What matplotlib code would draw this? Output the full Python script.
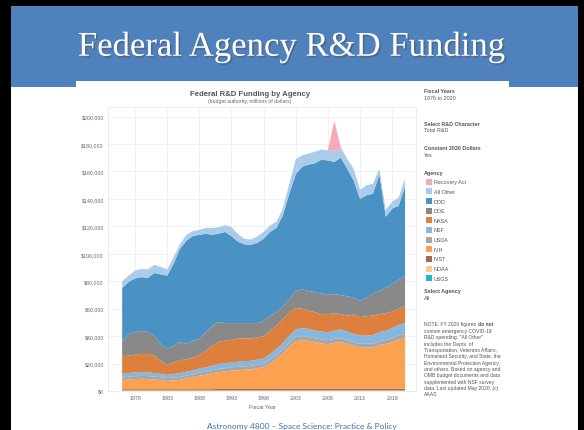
import matplotlib
matplotlib.use("Agg")
import matplotlib.pyplot as plt
import matplotlib.patheffects as pe
from matplotlib.patches import Rectangle

# fiscal years and R&D by agency, billions of constant 2020 dollars
years = list(range(1976, 2021))

usgs = [0.2] * 45
noaa = [0.3] * 45
nist = [0.8] * 15 + [1.0] * 10 + [1.2] * 20
nih = [6.5, 7.1, 7.4, 7.6, 7.5, 7.1, 6.7, 6.0, 6.4, 6.9,
       7.8, 8.6, 9.9, 10.5, 11.6, 12.3, 12.7, 13.4, 13.6, 14.0,
       14.3, 15.0, 15.8, 18.7, 22.1, 25.8, 30.7, 34.6, 35.3, 34.9,
       33.8, 33.0, 32.4, 33.4, 33.9, 32.7, 31.2, 30.2, 29.9, 30.2,
       31.7, 32.6, 33.9, 35.9, 36.9]
usda = [2.0, 2.0, 2.1, 2.1, 2.1, 2.1, 2.0, 2.0, 2.1, 2.1,
        2.1, 2.2, 2.2, 2.3, 2.3, 2.4, 2.4, 2.4, 2.5, 2.5,
        2.5, 2.5, 2.5, 2.6, 2.7, 2.8, 2.9, 3.0, 3.0, 3.0,
        2.9, 2.9, 2.9, 2.9, 3.0, 2.8, 2.7, 2.6, 2.7, 2.7,
        2.8, 2.8, 2.9, 2.9, 3.0]
nsf = [2.6, 2.7, 2.8, 2.8, 2.7, 2.6, 2.4, 2.4, 2.6, 2.8,
       2.8, 2.9, 3.0, 3.1, 3.2, 3.4, 3.5, 3.6, 3.7, 3.8,
       3.7, 3.8, 3.9, 4.1, 4.3, 4.7, 5.1, 5.5, 5.8, 5.7,
       5.6, 5.7, 5.8, 6.0, 6.2, 6.1, 6.0, 5.9, 6.1, 6.3,
       6.6, 6.9, 7.3, 7.7, 8.0]
nasa = [12.9, 12.7, 12.9, 13.2, 13.4, 12.7, 9.6, 7.3, 8.6, 9.5,
        8.8, 9.4, 9.8, 12.1, 14.5, 16.3, 16.5, 16.5, 17.0, 16.5,
        16.3, 16.3, 16.2, 17.0, 17.0, 17.6, 17.0, 15.5, 14.2, 13.3,
        13.4, 12.7, 13.2, 12.7, 11.2, 11.7, 14.1, 13.4, 14.1, 14.1,
        13.2, 12.7, 12.1, 11.8, 12.4]
doe = [11.4, 15.8, 16.5, 16.8, 16.0, 14.6, 12.3, 11.7, 12.0, 13.1,
       11.4, 12.2, 11.7, 13.6, 14.7, 14.4, 12.9, 12.1, 11.2, 11.2,
       11.2, 10.4, 11.3, 11.0, 10.0, 9.4, 9.6, 12.7, 14.0, 14.4,
       14.6, 15.0, 14.5, 13.8, 14.0, 14.0, 12.3, 12.2, 13.5, 16.0,
       17.0, 18.8, 20.1, 21.0, 22.0]
dod = [38.3, 37.9, 39.0, 39.2, 39.5, 45.6, 50.7, 53.3, 59.7, 68.0,
       75.4, 76.3, 76.0, 71.6, 66.3, 64.4, 66.4, 63.4, 59.4, 57.4,
       57.0, 58.4, 59.7, 61.0, 61.3, 66.0, 77.0, 85.0, 89.5, 92.0,
       94.0, 97.6, 97.5, 96.5, 100.0, 93.0, 85.5, 74.0, 74.6, 72.8,
       85.0, 51.5, 55.0, 54.0, 65.0]
all_other = [5.0, 4.5, 5.8, 6.0, 6.1, 6.0, 5.5, 4.6, 4.9, 3.3,
             4.3, 3.6, 3.5, 4.4, 5.0, 4.6, 5.0, 6.7, 5.6, 4.0,
             3.9, 4.6, 5.0, 4.7, 4.6, 5.0, 7.0, 11.0, 8.3, 8.0,
             8.5, 7.4, 7.4, 8.0, 6.7, 7.0, 8.5, 6.7, 7.4, 7.2,
             4.0, 5.0, 5.0, 6.0, 6.0]
recovery = [0.0] * 33 + [22.0, 1.0, 0.3] + [0.0] * 9

agencies = ["Recovery Act", "All Other", "DOD", "DOE", "NASA", "NSF",
            "USDA", "NIH", "NIST", "NOAA", "USGS"]
colors = {"Recovery Act": "#f7a9b8", "All Other": "#abcbea", "DOD": "#4a92c3",
          "DOE": "#898989", "NASA": "#de803d", "NSF": "#86b7e0",
          "USDA": "#a7a7a7", "NIH": "#fba14f", "NIST": "#9a6a5a",
          "NOAA": "#fdc69c", "USGS": "#2bb3c6"}
series = {"Recovery Act": recovery, "All Other": all_other, "DOD": dod,
          "DOE": doe, "NASA": nasa, "NSF": nsf, "USDA": usda, "NIH": nih,
          "NIST": nist, "NOAA": noaa, "USGS": usgs}

ytick_vals = list(range(0, 200001, 20000))
xtick_years = [1978, 1983, 1988, 1993, 1998, 2003, 2008, 2013, 2018]

note_lines = ["contain emergency COVID-19",
              "R&D spending. \"All Other\"",
              "includes the Depts. of",
              "Transportation, Veterans Affairs,",
              "Homeland Security, and State, the",
              "Environmental Protection Agency,",
              "and others. Based on agency and",
              "OMB budget documents and data",
              "supplemented with NSF survey",
              "data. Last updated May 2020. (c)",
              "AAAS"]

W, H = 584, 431


def fx(x):
    return x / W


def fy(y):
    return 1 - y / H


plt.rcParams["font.family"] = ["Liberation Sans", "DejaVu Sans"]
fig = plt.figure(figsize=(W / 100, H / 100), dpi=100)
fig.patch.set_facecolor("white")


# slide frame and header
def rect(x0, y0, x1, y1, color):
    fig.add_artist(Rectangle((fx(x0), fy(y1)), fx(x1) - fx(x0), fy(y0) - fy(y1),
                             transform=fig.transFigure, color=color, lw=0, zorder=0))


rect(0, 0, W, 7, "black")
rect(0, 0, 11, H, "black")
rect(578, 0, W, H, "black")
rect(11, 7, 578, 88, "#4f81bd")
rect(76, 82, 509, 88, "white")

fig.text(fx(292), fy(48), "Federal Agency R&D Funding", color="white",
         family=["Liberation Serif", "DejaVu Serif"], fontsize=25,
         ha="center", va="center",
         path_effects=[pe.withSimplePatchShadow(offset=(1.2, -1.2), alpha=0.45)])

fig.text(fx(302), fy(426.5), "Astronomy 4800 \u2013 Space Science: Practice & Policy",
         color="#3e6fb8", fontsize=6.0, family=["Lato", "DejaVu Sans"],
         ha="center", va="center")

# chart
ax = fig.add_axes([fx(108), fy(392), fx(416) - fx(108), fy(108) - fy(392)])
order = agencies[::-1]
ax.stackplot(years, [[v * 1000 for v in series[a]] for a in order],
             colors=[colors[a] for a in order], lw=0)
ax.set_xlim(1973.8, 2021.7)
ax.set_ylim(0, 207000)
ax.set_xticks(xtick_years)
ax.set_xticklabels([str(y) for y in xtick_years])
ax.set_yticks(ytick_vals)
ax.set_yticklabels(["${:,}".format(v) for v in ytick_vals])
ax.tick_params(length=0, labelsize=3.8, labelcolor="#666666", pad=3)
ax.grid(color="#ececec", lw=0.5)
ax.set_axisbelow(True)
for s in ax.spines.values():
    s.set_color("#e4e4e4")
    s.set_linewidth(0.5)
ax.set_xlabel("Fiscal Year", fontsize=4, color="#666666", labelpad=3)

fig.text(fx(250), fy(94), "Federal R&D Funding by Agency", fontsize=5.6,
         weight="bold", color="#555555", ha="center", va="center")
fig.text(fx(250), fy(101.5), "(budget authority, millions of dollars)",
         fontsize=3.7, color="#666666", ha="center", va="center")

# right panel
px0 = 424
tc = "#555555"
for txt, y, bold in [("Fiscal Years", 92, True), ("1976 to 2020", 99, False),
                     ("Select R&D Character", 124.5, True), ("Total R&D", 130.8, False),
                     ("Constant 2020 Dollars", 149, True), ("Yes", 155.3, False),
                     ("Agency", 174, True),
                     ("Select Agency", 292, True), ("All", 298.3, False)]:
    fig.text(fx(px0), fy(y), txt, fontsize=3.9, color=tc,
             weight="bold" if bold else "normal", ha="left", va="center")

for i, a in enumerate(agencies):
    y = 182.7 + i * 9.66
    fig.add_artist(Rectangle((fx(425.5), fy(y + 3)), fx(6), fy(0) - fy(6),
                             transform=fig.transFigure, color=colors[a], lw=0))
    fig.text(fx(434), fy(y), a, fontsize=3.9, color=tc, ha="left", va="center")

renderer = fig.canvas.get_renderer()
t0 = fig.text(fx(px0), fy(325), "NOTE: FY 2020 figures ", fontsize=3.6,
              color=tc, ha="left", va="center")
bb = t0.get_window_extent(renderer)
fig.text(bb.x1 / fig.bbox.width, fy(325), "do not", fontsize=3.6, color=tc,
         weight="bold", ha="left", va="center")
for i, line in enumerate(note_lines):
    fig.text(fx(px0), fy(325 + (i + 1) * 6.34), line, fontsize=3.6, color=tc,
             ha="left", va="center")

fig.savefig("out.png", dpi=100)
